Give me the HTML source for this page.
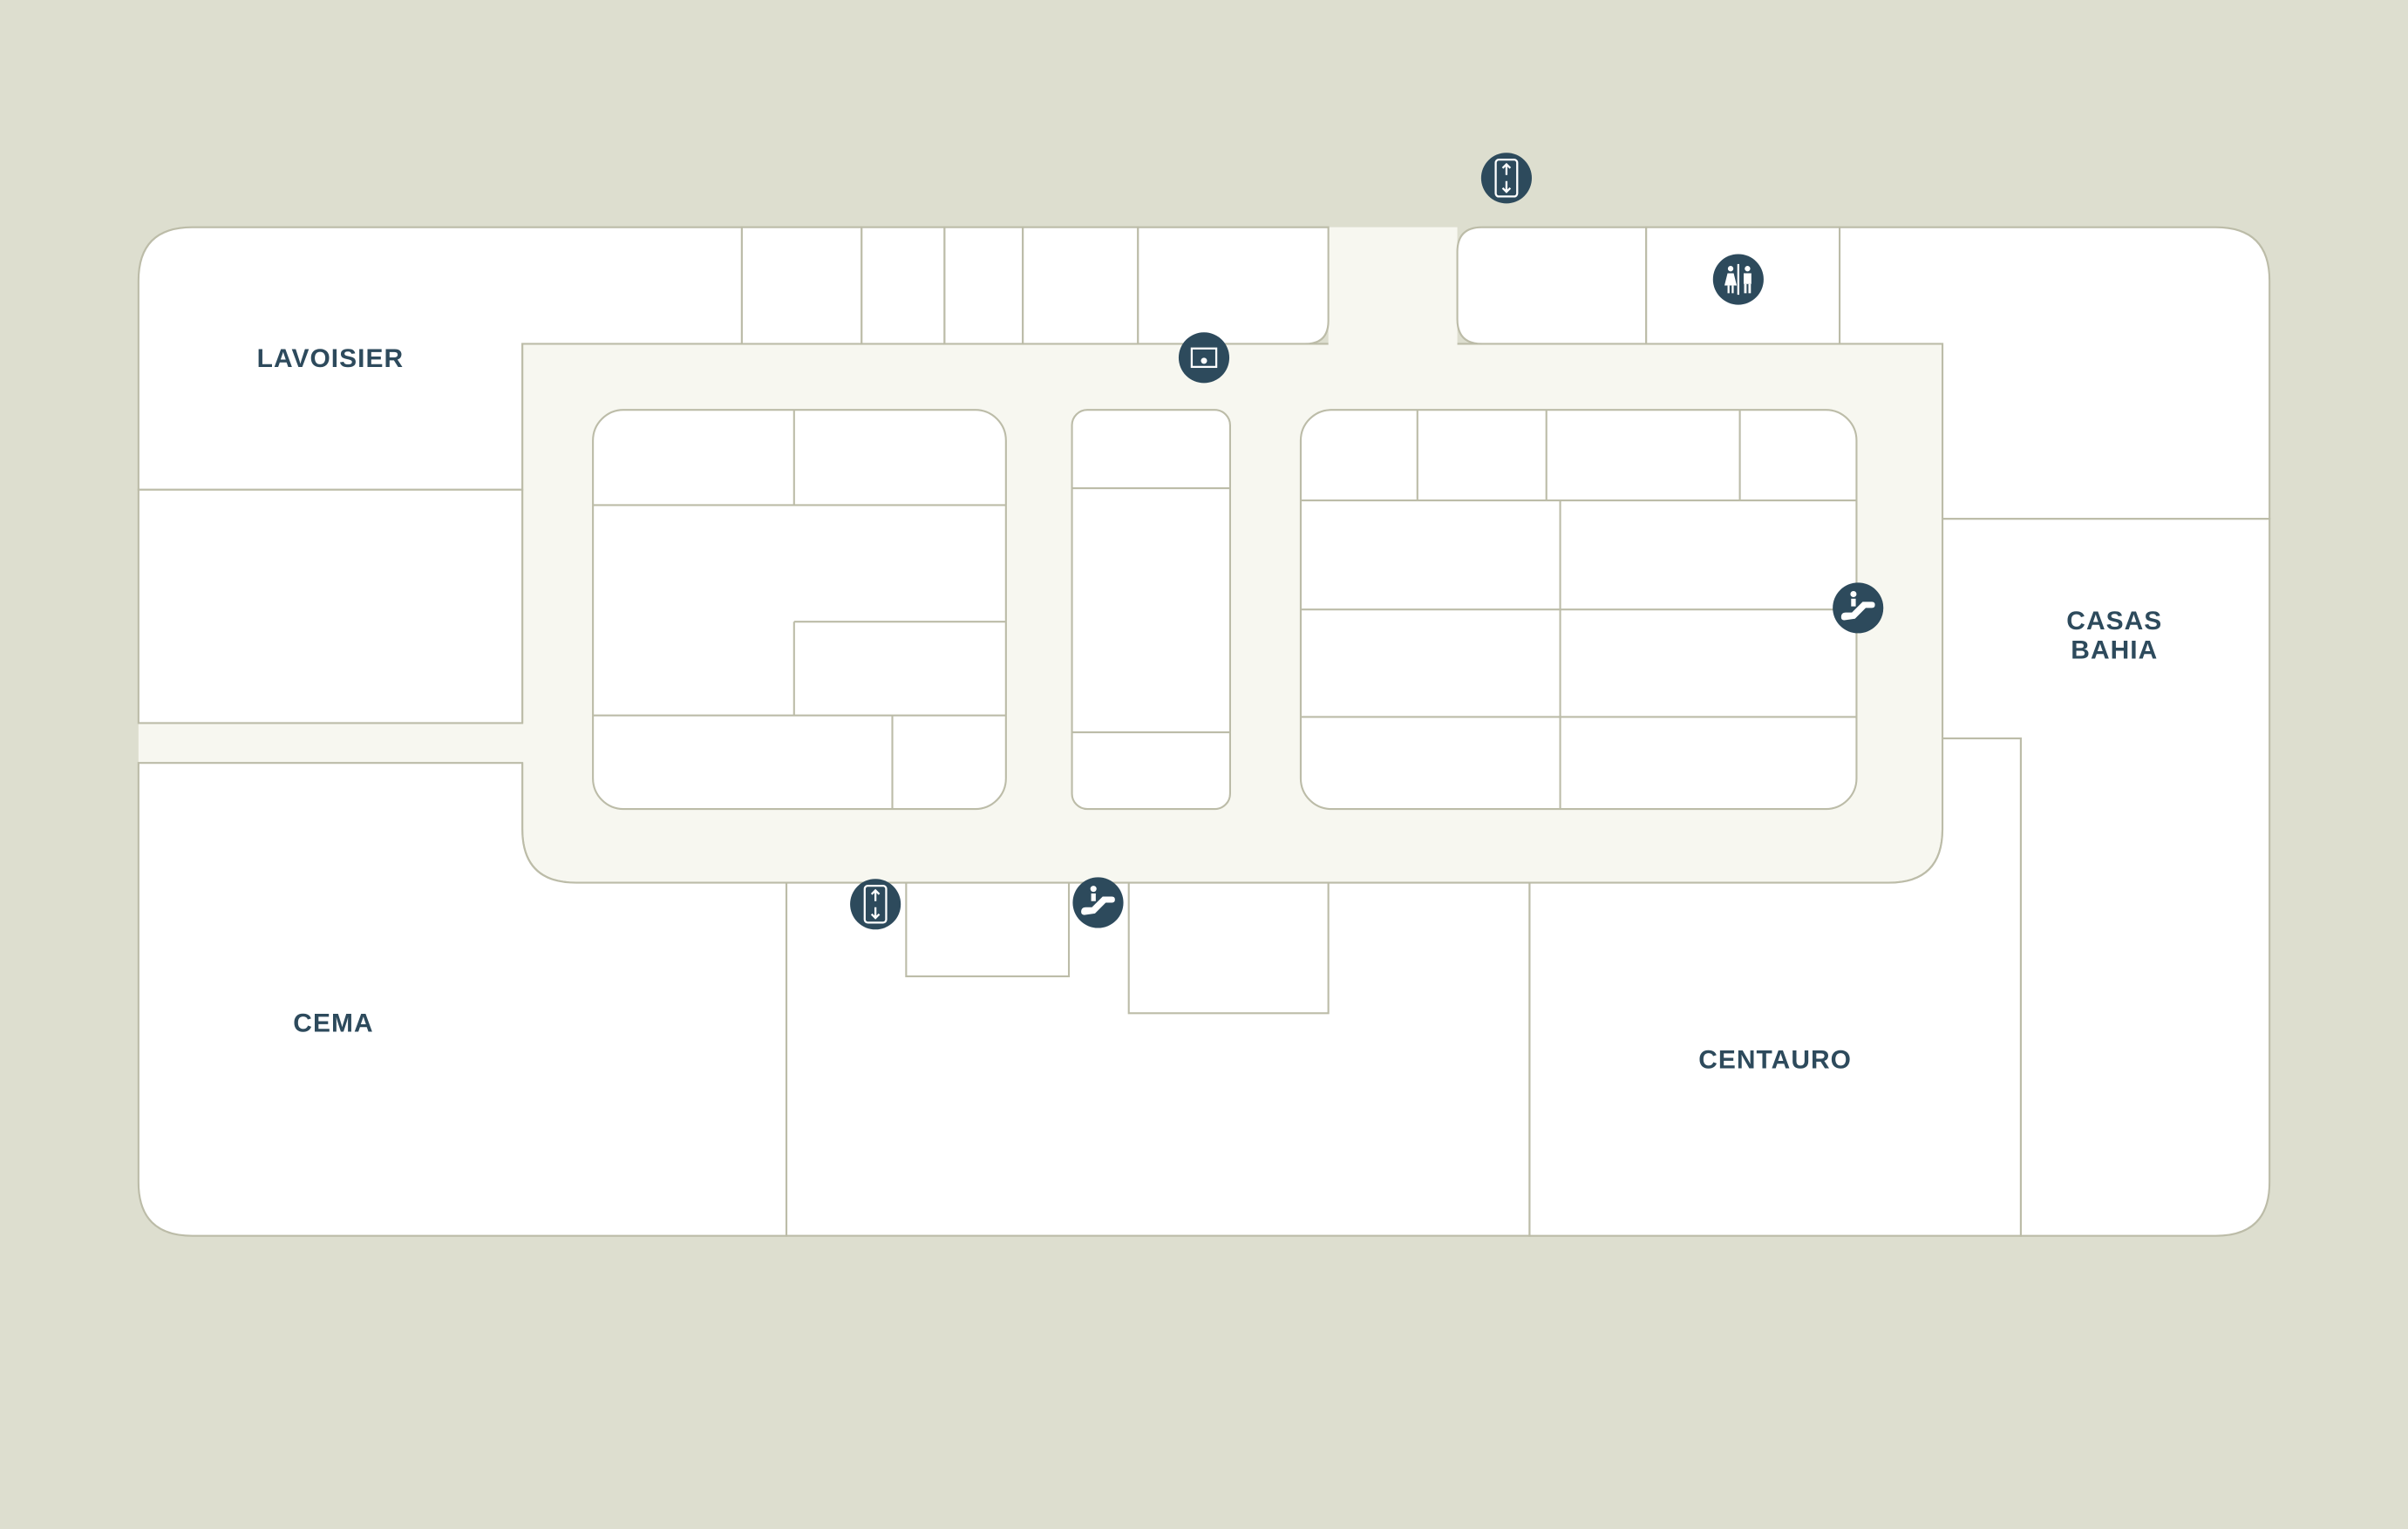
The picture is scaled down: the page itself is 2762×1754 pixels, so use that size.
<!DOCTYPE html>
<html><head><meta charset="utf-8"><style>
html,body{margin:0;padding:0;background:#dddecf;}
svg{display:block;}
text{font-family:"Liberation Sans",sans-serif;font-weight:bold;fill:#2d4a5c;font-size:17px;letter-spacing:0.6px;text-anchor:middle;}
</style></head><body>
<svg width="2762" height="1754" viewBox="0 0 1568 996" xmlns="http://www.w3.org/2000/svg">
<rect width="1568" height="996" fill="#dddecf"/>
<g stroke="#bcbca8" stroke-width="1.2">
<path d="M340,224 L1265,224 L1265,540 Q1265,575 1230,575 L375,575 Q340,575 340,540 Z" fill="#f7f7f0"/>
<rect x="865" y="148" width="84" height="77" fill="#f7f7f0" stroke="none"/>
<rect x="90" y="471" width="251" height="26" fill="#f7f7f0" stroke="none"/>
<g fill="#fff">
<path d="M90,319 L90,183 Q90,148 125,148 L483,148 L483,224 L340,224 L340,319 Z"/>
<rect x="90" y="319" width="250" height="152"/>
<rect x="483" y="148" width="78" height="76"/>
<rect x="561" y="148" width="54" height="76"/>
<rect x="615" y="148" width="51" height="76"/>
<rect x="666" y="148" width="75" height="76"/>
<path d="M741,148 L865,148 L865,209 Q865,224 850,224 L741,224 Z"/>
<path d="M965,148 L1072,148 L1072,224 L965,224 Q949,224 949,208 L949,164 Q949,148 965,148 Z"/>
<rect x="1072" y="148" width="126" height="76"/>
<path d="M1198,148 L1443,148 Q1478,148 1478,183 L1478,338 L1265,338 L1265,224 L1198,224 Z"/>
<path d="M1265,338 L1478,338 L1478,770 Q1478,805 1443,805 L1316,805 L1316,481 L1265,481 Z"/>
<path d="M996,575 L1230,575 Q1265,575 1265,540 L1265,481 L1316,481 L1316,805 L996,805 Z"/>
<rect x="512" y="575" width="484" height="230"/>
<rect x="590" y="575" width="106" height="61"/>
<rect x="735" y="575" width="130" height="85"/>
<path d="M90,497 L340,497 L340,540 Q340,575 375,575 L512,575 L512,805 L125,805 Q90,805 90,770 Z"/>
<rect x="386" y="267" width="269" height="260" rx="20"/>
<rect x="698" y="267" width="103" height="260" rx="10"/>
<rect x="847" y="267" width="362" height="260" rx="20"/>
</g>
<g fill="none">
<path d="M386,329 H655 M517,267 V329 M517,405 V466 M517,405 H655 M386,466 H655 M581,466 V527"/>
<path d="M698,318 H801 M698,477 H801"/>
<path d="M923,267 V326 M1007,267 V326 M1133,267 V326 M847,326 H1209 M1016,326 V527 M847,397 H1209 M847,467 H1209"/>
</g>
</g>
<text x="215" y="239">LAVOISIER</text>
<text x="217" y="672">CEMA</text>
<text x="1156" y="696">CENTAURO</text>
<text x="1377" y="410">CASAS</text>
<text x="1377" y="429">BAHIA</text>
<g fill="#2d4a5c">
<circle cx="981" cy="116" r="16.5"/><circle cx="570" cy="589" r="16.5"/>
<circle cx="1132" cy="182" r="16.5"/><circle cx="784" cy="233" r="16.5"/>
<circle cx="1210" cy="396" r="16.5"/><circle cx="715" cy="588" r="16.5"/>
</g>
<g stroke="#fff" stroke-width="1.3" fill="none">
<rect x="974" y="104" width="14" height="24" rx="2"/>
<path d="M981,107 V114 M978.5,109.5 L981,107 L983.5,109.5 M981,118 V125 M978.5,122.5 L981,125 L983.5,122.5"/>
<rect x="563" y="577" width="14" height="24" rx="2"/>
<path d="M570,580 V587 M567.5,582.5 L570,580 L572.5,582.5 M570,591 V598 M567.5,595.5 L570,598 L572.5,595.5"/>
<rect x="776" y="227" width="16" height="12"/>
<path d="M1132,172 V192"/>
</g>
<g fill="#fff">
<circle cx="784" cy="235" r="2"/>
<circle cx="1127" cy="175" r="1.8"/><path d="M1125,178 H1129 L1131,186 H1123 Z"/><rect x="1125" y="186" width="1.3" height="5"/><rect x="1127.7" y="186" width="1.3" height="5"/>
<circle cx="1138" cy="175" r="1.8"/><rect x="1135.5" y="178" width="5" height="7"/><rect x="1135.8" y="185" width="1.6" height="6"/><rect x="1138.6" y="185" width="1.6" height="6"/>
<g transform="translate(1210,396)"><circle cx="-3" cy="-9" r="2"/><rect x="-4.5" y="-6" width="3" height="5"/><path d="M-11,6 Q-11,3 -8,3 L-4,3 L3,-4 L9,-4 Q11,-4 11,-2 Q11,0 9,0 L5,0 L-2,7 L-9,8 Q-11,8 -11,6 Z"/></g>
<g transform="translate(715,588)"><circle cx="-3" cy="-9" r="2"/><rect x="-4.5" y="-6" width="3" height="5"/><path d="M-11,6 Q-11,3 -8,3 L-4,3 L3,-4 L9,-4 Q11,-4 11,-2 Q11,0 9,0 L5,0 L-2,7 L-9,8 Q-11,8 -11,6 Z"/></g>
</g>
</svg>
</body></html>
